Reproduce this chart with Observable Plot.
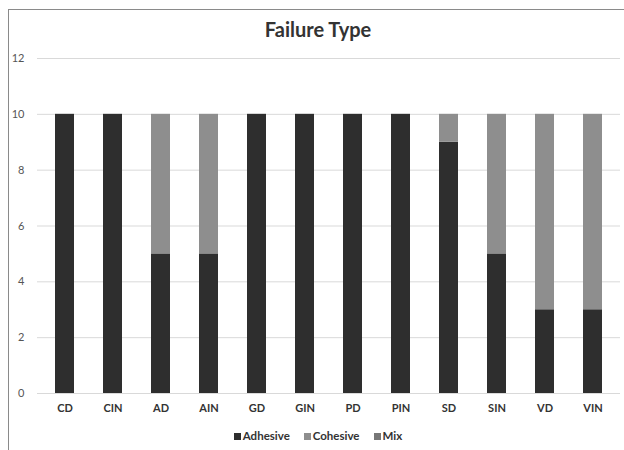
<!DOCTYPE html>
<html>
<head>
<meta charset="utf-8">
<script src="https://cdn.jsdelivr.net/npm/d3@7"></script>
<script src="https://cdn.jsdelivr.net/npm/@observablehq/plot@0.6"></script>
<style>
  html, body { margin: 0; padding: 0; background: #fff; }
  #wrap { position: relative; width: 624px; height: 450px; overflow: hidden; font-family: Lato, "Open Sans", sans-serif; }
  #frame { position: absolute; left: 8px; top: 9px; width: 700px; height: 600px; border-left: 1px solid #8a8a8a; border-top: 1px solid #8a8a8a; }
  #title { position: absolute; top: 17px; left: 0; width: 636px; text-align: center; font-size: 20px; font-weight: bold; color: #333; }
  #chart { position: absolute; top: 40px; left: 0; }
  #legend { position: absolute; top: 429px; left: 0; width: 636px; text-align: center; font-size: 11.5px; font-weight: bold; color: #333; }
  #legend span.item { margin: 0 7px; }
  #legend span.sw { display: inline-block; width: 7px; height: 7px; margin-right: 2px; vertical-align: 0px; }
</style>
</head>
<body>
<div id="wrap">
  <div id="frame"></div>
  <div id="title">Failure Type</div>
  <div id="chart"></div>
  <div id="legend"></div>
</div>
<script>
const categories = ["CD","CIN","AD","AIN","GD","GIN","PD","PIN","SD","SIN","VD","VIN"];
const adhesive = [10,10,5,5,10,10,10,10,9,5,3,3];
const cohesive = [0,0,5,5,0,0,0,0,1,5,7,7];
const mix = [0,0,0,0,0,0,0,0,0,0,0,0];
const seriesNames = ["Adhesive","Cohesive","Mix"];
const seriesColors = ["#2e2e2e","#8e8e8e","#777777"];
const yTicks = [0,2,4,6,8,10,12];

const data = [];
categories.forEach((c, i) => {
  data.push({cat: c, type: "Adhesive", value: adhesive[i]});
  data.push({cat: c, type: "Cohesive", value: cohesive[i]});
  data.push({cat: c, type: "Mix", value: mix[i]});
});

const chart = Plot.plot({
  width: 624,
  height: 381,
  marginLeft: 37,
  marginRight: 4,
  marginTop: 18,
  marginBottom: 28,
  style: {fontFamily: "Lato, 'Open Sans', sans-serif", fontSize: "11px", color: "#444", background: "transparent"},
  x: {domain: categories, paddingInner: 0.6, paddingOuter: 0.3, label: null, tickSize: 0, tickPadding: 11},
  y: {domain: [0, 12], ticks: yTicks, label: null, tickSize: 0, tickPadding: 13},
  color: {domain: seriesNames, range: seriesColors},
  marks: [
    Plot.ruleY(yTicks, {stroke: "#d9d9d9", strokeWidth: 1}),
    Plot.barY(data, Plot.stackY({x: "cat", y: "value", fill: "type", order: seriesNames})),
    Plot.axisX({tickSize: 0, tickPadding: 11, fontWeight: "bold", fill: "#333"}),
    Plot.axisY({ticks: yTicks, tickSize: 0, tickPadding: 13, fill: "#555"})
  ]
});
document.getElementById("chart").appendChild(chart);

const legend = document.getElementById("legend");
seriesNames.forEach((n, i) => {
  const item = document.createElement("span");
  item.className = "item";
  const sw = document.createElement("span");
  sw.className = "sw";
  sw.style.background = seriesColors[i];
  item.appendChild(sw);
  item.appendChild(document.createTextNode(n));
  legend.appendChild(item);
});
</script>
</body>
</html>
